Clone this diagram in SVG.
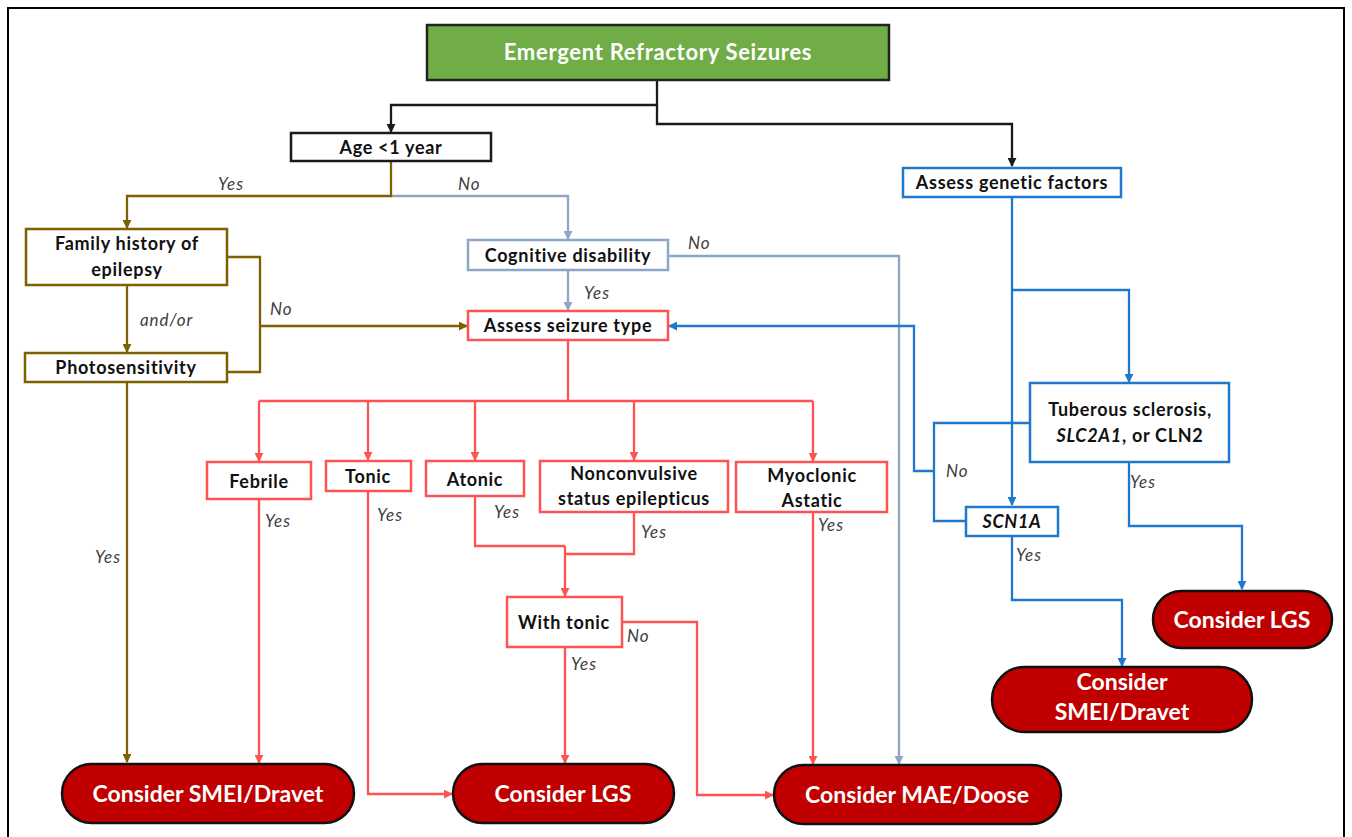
<svg xmlns="http://www.w3.org/2000/svg" width="1352" height="837" viewBox="0 0 1352 837">
<style>
  .box{fill:#fff;stroke-width:2.5}
  .blk{stroke:#1a1a1a}
  .brn{stroke:#7F6000}
  .gry{stroke:#8EA6C6}
  .red{stroke:#FF5252}
  .blu{stroke:#1F78CC}
  .t{font-family:Lato,"Open Sans","Liberation Sans",sans-serif;font-weight:bold;font-size:18px;letter-spacing:0.7px;fill:#111;text-anchor:middle}
  .pill{fill:#C00000;stroke:#111;stroke-width:2.5}
  .pt{font-family:Lato,"Open Sans","Liberation Sans",sans-serif;font-weight:bold;font-size:23px;fill:#fff;text-anchor:middle}
  .lbl{font-family:Lato,"Open Sans","Liberation Sans",sans-serif;font-style:italic;font-size:17px;letter-spacing:0.9px;fill:#404040}
  .c{fill:none;stroke-width:2.3}
</style>
<defs>
  <marker id="aK" viewBox="0 0 10 10" refX="9" refY="5" markerWidth="9" markerHeight="9" markerUnits="userSpaceOnUse" orient="auto"><path d="M0,0 L10,5 L0,10 z" fill="#1a1a1a"/></marker>
  <marker id="aB" viewBox="0 0 10 10" refX="9" refY="5" markerWidth="9" markerHeight="9" markerUnits="userSpaceOnUse" orient="auto"><path d="M0,0 L10,5 L0,10 z" fill="#7F6000"/></marker>
  <marker id="aG" viewBox="0 0 10 10" refX="9" refY="5" markerWidth="9" markerHeight="9" markerUnits="userSpaceOnUse" orient="auto"><path d="M0,0 L10,5 L0,10 z" fill="#8EA6C6"/></marker>
  <marker id="aR" viewBox="0 0 10 10" refX="9" refY="5" markerWidth="9" markerHeight="9" markerUnits="userSpaceOnUse" orient="auto"><path d="M0,0 L10,5 L0,10 z" fill="#FF5252"/></marker>
  <marker id="aU" viewBox="0 0 10 10" refX="9" refY="5" markerWidth="9" markerHeight="9" markerUnits="userSpaceOnUse" orient="auto"><path d="M0,0 L10,5 L0,10 z" fill="#1F78CC"/></marker>
</defs>
<rect x="0" y="0" width="1352" height="837" fill="#fff"/>
<rect x="8" y="8" width="1336" height="845" fill="none" stroke="#000" stroke-width="2"/>

<g id="connectors">
  <path class="c blk" d="M657,80 V105 H391 V132" marker-end="url(#aK)"/>
  <path class="c blk" d="M657,105 V124 H1012 V166" marker-end="url(#aK)"/>
  <path class="c gry" d="M391,196 H568 V239" marker-end="url(#aG)"/>
  <path class="c brn" d="M391,161 V196 H127 V228" marker-end="url(#aB)"/>
  <path class="c brn" d="M127,285 V352" marker-end="url(#aB)"/>
  <path class="c brn" d="M227,257 H260 V372 H227"/>
  <path class="c brn" d="M260,326 H467" marker-end="url(#aB)"/>
  <path class="c brn" d="M127,382 V762" marker-end="url(#aB)"/>
  <path class="c gry" d="M568,270 V310" marker-end="url(#aG)"/>
  <path class="c gry" d="M668,256 H899 V764" marker-end="url(#aG)"/>
  <path class="c red" d="M568,340 V401 M259,401 H813"/>
  <path class="c red" d="M259,401 V461" marker-end="url(#aR)"/>
  <path class="c red" d="M368,401 V460" marker-end="url(#aR)"/>
  <path class="c red" d="M475,401 V460" marker-end="url(#aR)"/>
  <path class="c red" d="M634,401 V460" marker-end="url(#aR)"/>
  <path class="c red" d="M813,401 V461" marker-end="url(#aR)"/>
  <path class="c red" d="M259,499 V763" marker-end="url(#aR)"/>
  <path class="c red" d="M368,491 V794 H452" marker-end="url(#aR)"/>
  <path class="c red" d="M475,496 V546 H565 M634,512 V554 H565"/>
  <path class="c red" d="M565,546 V596" marker-end="url(#aR)"/>
  <path class="c red" d="M565,647 V763" marker-end="url(#aR)"/>
  <path class="c red" d="M622,622 H697 V795 H773" marker-end="url(#aR)"/>
  <path class="c red" d="M813,512 V764" marker-end="url(#aR)"/>
  <path class="c blu" d="M1012,197 V505" marker-end="url(#aU)"/>
  <path class="c blu" d="M1012,290 H1129 V382" marker-end="url(#aU)"/>
  <path class="c blu" d="M1030,423 H934 V521 H966"/>
  <path class="c blu" d="M934,471 H914 V326 H669" marker-end="url(#aU)"/>
  <path class="c blu" d="M1129,462 V526 H1242 V589" marker-end="url(#aU)"/>
  <path class="c blu" d="M1012,536 V600 H1122 V666" marker-end="url(#aU)"/>
  <text class="lbl" x="218" y="190">Yes</text>
  <text class="lbl" x="458" y="190">No</text>
  <text class="lbl" x="140" y="326">and/or</text>
  <text class="lbl" x="270" y="315">No</text>
  <text class="lbl" x="95" y="563">Yes</text>
  <text class="lbl" x="688" y="249">No</text>
  <text class="lbl" x="584" y="299">Yes</text>
  <text class="lbl" x="265" y="527">Yes</text>
  <text class="lbl" x="377" y="521">Yes</text>
  <text class="lbl" x="494" y="518">Yes</text>
  <text class="lbl" x="641" y="538">Yes</text>
  <text class="lbl" x="818" y="531">Yes</text>
  <text class="lbl" x="571" y="670">Yes</text>
  <text class="lbl" x="627" y="642">No</text>
  <text class="lbl" x="946" y="477">No</text>
  <text class="lbl" x="1130" y="488">Yes</text>
  <text class="lbl" x="1016" y="561">Yes</text>
</g>

<g id="n-title"><rect x="427" y="25" width="462" height="55" fill="#70AD47" stroke="#222" stroke-width="2.5"/><text class="t" x="658" y="60" style="fill:#fff;font-size:22px;letter-spacing:0.7px">Emergent Refractory Seizures</text></g>
<g id="n-age"><rect class="box blk" x="291" y="133" width="200" height="28"/><text class="t" x="391" y="154">Age &lt;1 year</text></g>
<g id="n-genetic"><rect class="box blu" x="903" y="168" width="218" height="29"/><text class="t" x="1012" y="189">Assess genetic factors</text></g>
<g id="n-family"><rect class="box brn" x="26" y="229" width="201" height="56"/><text class="t" x="127" y="250">Family history of</text><text class="t" x="127" y="276">epilepsy</text></g>
<g id="n-photo"><rect class="box brn" x="25" y="353" width="202" height="29"/><text class="t" x="126" y="374">Photosensitivity</text></g>
<g id="n-cognitive"><rect class="box gry" x="468" y="240" width="200" height="30"/><text class="t" x="568" y="262">Cognitive disability</text></g>
<g id="n-seizure"><rect class="box red" x="468" y="311" width="200" height="29"/><text class="t" x="568" y="332">Assess seizure type</text></g>
<g id="n-tuberous"><rect class="box blu" x="1030" y="383" width="199" height="79"/><text class="t" x="1130" y="416">Tuberous sclerosis,</text><text class="t" x="1130" y="442"><tspan font-style="italic">SLC2A1</tspan>, or CLN2</text></g>
<g id="n-scn1a"><rect class="box blu" x="966" y="507" width="92" height="29"/><text class="t" x="1012" y="528" font-style="italic">SCN1A</text></g>
<g id="n-febrile"><rect class="box red" x="207" y="462" width="104" height="37"/><text class="t" x="259" y="488">Febrile</text></g>
<g id="n-tonic"><rect class="box red" x="326" y="461" width="85" height="30"/><text class="t" x="368" y="483">Tonic</text></g>
<g id="n-atonic"><rect class="box red" x="426" y="461" width="98" height="35"/><text class="t" x="475" y="486">Atonic</text></g>
<g id="n-noncon"><rect class="box red" x="540" y="461" width="188" height="51"/><text class="t" x="634" y="480">Nonconvulsive</text><text class="t" x="634" y="505">status epilepticus</text></g>
<g id="n-myoclonic"><rect class="box red" x="736" y="462" width="151" height="50"/><text class="t" x="812" y="482">Myoclonic</text><text class="t" x="812" y="507">Astatic</text></g>
<g id="n-withtonic"><rect class="box red" x="507" y="597" width="115" height="50"/><text class="t" x="564" y="629">With tonic</text></g>
<g id="n-smei1"><rect class="pill" x="62" y="764" width="292" height="59" rx="29.5"/><text class="pt" x="208" y="802">Consider SMEI/Dravet</text></g>
<g id="n-lgs1"><rect class="pill" x="453" y="764" width="221" height="59" rx="29.5"/><text class="pt" x="563" y="802">Consider LGS</text></g>
<g id="n-mae"><rect class="pill" x="774" y="765" width="287" height="59" rx="29.5"/><text class="pt" x="917" y="803">Consider MAE/Doose</text></g>
<g id="n-lgs2"><rect class="pill" x="1153" y="591" width="179" height="57" rx="28.5"/><text class="pt" x="1242" y="628">Consider LGS</text></g>
<g id="n-smei2"><rect class="pill" x="992" y="667" width="260" height="65" rx="32.5"/><text class="pt" x="1122" y="690">Consider</text><text class="pt" x="1122" y="720">SMEI/Dravet</text></g>
</svg>
